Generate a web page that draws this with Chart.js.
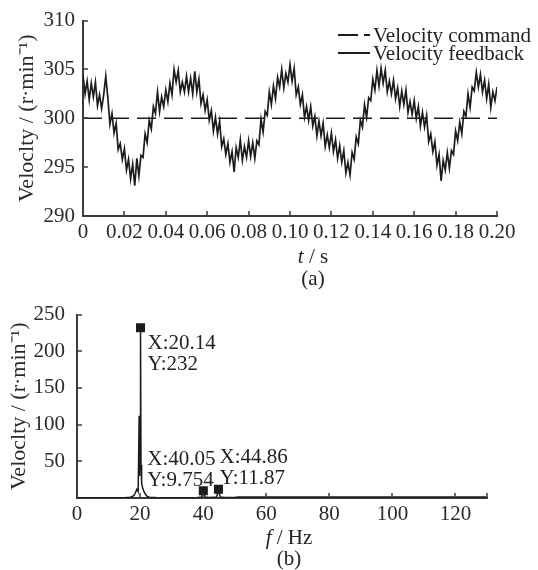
<!DOCTYPE html>
<html>
<head>
<meta charset="utf-8">
<script src="https://cdn.jsdelivr.net/npm/chart.js@4.4.0/dist/chart.umd.min.js"></script>
<style>
  body { margin: 0; background: #fff; }
  #wrap { position: relative; width: 538px; height: 570px; }
  canvas { position: absolute; left: 0; }
</style>
</head>
<body>
<div id="wrap">
  <canvas id="timeChart" width="538" height="290" style="top:0"></canvas>
  <canvas id="fftChart" width="538" height="280" style="top:290px"></canvas>
</div>
<script>
// (a) speed in the time domain, one sample per ms
const sampleStep = 0.001;
const timeRange = [0, 0.2];
const velocityCommand = 300;
const velocityFeedback = [
  304.4, 302.5, 303.8, 301.9, 303.6, 302.2, 303.7, 301.3, 302.4, 301.0,
  302.4, 304.3, 302.1, 299.4, 300.5, 298.5, 299.5, 296.8, 297.4, 295.8,
  296.9, 294.7, 295.8, 293.8, 295.3, 293.1, 295.9, 294.1, 296.2, 296.0,
  298.4, 297.5, 299.8, 298.9, 301.2, 300.5, 302.7, 300.7, 302.2, 301.2,
  302.9, 301.7, 303.6, 302.4, 305.0, 303.7, 304.9, 302.7, 303.7, 302.7,
  304.3, 302.7, 304.1, 302.5, 304.8, 302.7, 304.0, 301.5, 302.4, 300.8,
  301.9, 299.8, 300.8, 298.7, 300.1, 298.4, 299.7, 297.1, 297.9, 296.3,
  297.4, 295.5, 296.6, 294.5, 297.0, 296.0, 297.8, 295.7, 297.1, 296.0,
  297.7, 296.1, 297.5, 295.9, 297.7, 297.3, 299.9, 298.6, 300.7, 300.3,
  302.7, 301.4, 303.3, 302.0, 304.2, 303.2, 305.0, 303.1, 304.6, 303.7,
  305.5, 303.8, 305.1, 302.4, 303.2, 301.4, 302.4, 300.1, 301.2, 299.8,
  301.2, 299.2, 300.2, 298.2, 299.7, 298.2, 299.5, 297.1, 298.3, 297.0,
  298.5, 296.6, 297.8, 295.9, 297.2, 295.5, 296.7, 294.4, 295.5, 294.2,
  296.5, 295.8, 298.1, 297.4, 299.8, 299.1, 301.4, 300.1, 302.1, 301.8,
  304.0, 302.9, 304.9, 303.3, 305.1, 303.6, 304.9, 302.7, 303.8, 302.5,
  303.9, 302.0, 303.1, 301.2, 302.8, 301.4, 302.9, 300.6, 301.7, 300.4,
  301.8, 300.0, 301.2, 299.2, 300.6, 299.1, 300.3, 297.6, 298.4, 296.6,
  297.6, 295.2, 296.3, 293.6, 295.7, 294.7, 296.5, 294.9, 296.7, 296.3,
  298.7, 297.7, 299.6, 298.4, 300.7, 300.2, 302.5, 301.1, 303.2, 302.8,
  304.7, 303.2, 304.5, 302.7, 303.9, 302.0, 303.5, 301.1, 302.7, 301.8,
  303.2
];

// (b) spectrum of the feedback
const freqHz = [0, 5, 10, 15, 17, 18, 18.5, 19, 19.4, 19.7, 19.85, 20, 20.14, 20.3, 20.5, 20.8, 21.2, 21.7, 22.3, 23,
  25, 30, 35, 38, 39.5, 40.05, 40.6, 42, 44.3, 44.86, 45.4, 47, 50, 51, 60, 70, 80, 90, 100, 110, 120, 130];
const amplitude = [0.3, 0.3, 0.4, 0.5, 1, 3, 7, 12, 9, 112, 30, 90, 232, 45, 20, 14, 9, 5, 2, 1,
  0.6, 0.4, 0.4, 0.5, 1.5, 9.754, 1.5, 0.6, 1.5, 11.87, 1.5, 0.6, 0.6, 1.5, 1.5, 1.5, 1.5, 1.5, 1.5, 1.5, 1.5, 1.5];
const peakFreq = [20.14, 40.05, 44.86];
const peakAmp = [232, 9.754, 11.87];
const peakLabelOffsets = [[7, 16], [-56, -31], [1, -32]];

const serif = "'Liberation Serif', 'Times New Roman', serif";
const ink = '#1c1c1c';
Chart.defaults.font.family = serif;
Chart.defaults.font.size = 21;
Chart.defaults.color = '#2a2a2a';

// small tick marks pointing into the plot
const innerTicks = {
  id: 'innerTicks',
  afterDraw(chart) {
    const { ctx, scales: { x, y } } = chart;
    ctx.save();
    ctx.strokeStyle = '#3a3a3a';
    ctx.lineWidth = 1.5;
    ctx.beginPath();
    const xs = x.ticks.map(t => t.value).filter(v => v > x.min);
    if (xs[xs.length - 1] < x.max) xs.push(x.max);
    xs.forEach(v => {
      const px = Math.round(x.getPixelForValue(v));
      ctx.moveTo(px, x.top);
      ctx.lineTo(px, x.top - 5);
    });
    y.ticks.forEach(t => {
      if (t.value <= y.min) return;
      const py = Math.round(y.getPixelForValue(t.value));
      ctx.moveTo(y.right, py);
      ctx.lineTo(y.right + 5, py);
    });
    ctx.stroke();
    ctx.restore();
  }
};

// x-axis title with italic symbol, plus the (a)/(b) tag
const axisCaption = {
  id: 'axisCaption',
  afterDraw(chart, args, opts) {
    const ctx = chart.ctx;
    ctx.save();
    ctx.fillStyle = '#222';
    ctx.textBaseline = 'middle';
    const italic = 'italic 21px ' + serif;
    const plain = '21px ' + serif;
    ctx.font = italic;
    const w1 = ctx.measureText(opts.symbol).width;
    ctx.font = plain;
    const w2 = ctx.measureText(opts.unit).width;
    const x0 = opts.x - (w1 + w2) / 2;
    ctx.textAlign = 'left';
    ctx.font = italic;
    ctx.fillText(opts.symbol, x0, opts.y);
    ctx.font = plain;
    ctx.fillText(opts.unit, x0 + w1, opts.y);
    ctx.textAlign = 'center';
    ctx.fillText(opts.tag, opts.x, opts.tagY);
    ctx.restore();
  }
};

// legend at the top right, partly outside the plot
const sideLegend = {
  id: 'sideLegend',
  afterDraw(chart, args, opts) {
    const ctx = chart.ctx;
    ctx.save();
    ctx.font = '21px ' + serif;
    ctx.textBaseline = 'middle';
    ctx.textAlign = 'left';
    chart.data.datasets.forEach((ds, i) => {
      const y = opts.top + i * opts.rowGap;
      ctx.strokeStyle = ink;
      ctx.lineWidth = 2;
      ctx.setLineDash(ds.borderDash ? [20, 6] : []);
      ctx.beginPath();
      ctx.moveTo(opts.left, y);
      ctx.lineTo(opts.left + opts.sampleWidth, y);
      ctx.stroke();
      ctx.setLineDash([]);
      ctx.fillStyle = '#222';
      ctx.fillText(ds.label, opts.left + opts.sampleWidth + 3, y + 1);
    });
    ctx.restore();
  }
};

// data tip labels next to the peak markers
const peakLabels = {
  id: 'peakLabels',
  afterDraw(chart) {
    const { ctx, scales: { x, y } } = chart;
    ctx.save();
    ctx.font = '21px ' + serif;
    ctx.fillStyle = '#222';
    ctx.textBaseline = 'middle';
    ctx.textAlign = 'left';
    peakFreq.forEach((f, i) => {
      const px = x.getPixelForValue(f);
      const py = y.getPixelForValue(peakAmp[i]);
      const [dx, dy] = peakLabelOffsets[i];
      ctx.fillText('X:' + f, px + dx, py + dy);
      ctx.fillText('Y:' + peakAmp[i], px + dx, py + dy + 21);
    });
    ctx.restore();
  }
};

const axisBorder = { display: true, color: '#3a3a3a', width: 2 };
const yTitle = 'Veloclty / (r·min⁻¹)';
const yTitleFont = { size: 22 };

new Chart(document.getElementById('timeChart'), {
  type: 'line',
  data: {
    datasets: [{
      label: 'Velocity command',
      data: timeRange.map(t => ({ x: t, y: velocityCommand })),
      borderColor: ink,
      borderWidth: 1.5,
      borderDash: [19, 8],
      pointRadius: 0
    }, {
      label: 'Velocity feedback',
      data: velocityFeedback.map((v, i) => ({ x: i * sampleStep, y: v })),
      borderColor: ink,
      borderWidth: 1.7,
      pointRadius: 0,
      tension: 0
    }]
  },
  options: {
    responsive: false,
    animation: false,
    layout: { padding: { top: 20, right: 41, left: 0, bottom: 0 } },
    plugins: {
      legend: { display: false },
      tooltip: { enabled: false },
      sideLegend: { left: 338, top: 35, rowGap: 18, sampleWidth: 32 },
      axisCaption: { symbol: 't', unit: ' / s', tag: '(a)', x: 313, y: 257, tagY: 279 }
    },
    scales: {
      x: {
        type: 'linear',
        min: 0, max: 0.2,
        grid: { display: false, drawTicks: false },
        border: axisBorder,
        ticks: {
          stepSize: 0.02, autoSkip: false, maxRotation: 0, minRotation: 0, padding: 4,
          callback: v => v === 0 ? '0' : v.toFixed(2)
        },
        afterFit: s => { s.height = 74; }
      },
      y: {
        min: 290, max: 310,
        grid: { display: false, drawTicks: false },
        border: axisBorder,
        ticks: { stepSize: 5, padding: 8 },
        title: { display: true, text: yTitle, font: yTitleFont, padding: { top: 14, bottom: 0 } },
        afterFit: s => { s.width = 83; }
      }
    }
  },
  plugins: [innerTicks, sideLegend, axisCaption]
});

new Chart(document.getElementById('fftChart'), {
  type: 'line',
  data: {
    datasets: [{
      type: 'scatter',
      label: 'Peaks',
      data: peakFreq.map((f, i) => ({ x: f, y: peakAmp[i] })),
      pointStyle: 'rect',
      pointRadius: 6.4,
      backgroundColor: ink,
      borderColor: ink,
      borderWidth: 0
    }, {
      label: 'Spectrum',
      data: freqHz.map((f, i) => ({ x: f, y: amplitude[i] })),
      borderColor: ink,
      borderWidth: 1.5,
      pointRadius: 0,
      tension: 0
    }]
  },
  options: {
    responsive: false,
    animation: false,
    layout: { padding: { top: 18, right: 51, left: 0, bottom: 0 } },
    plugins: {
      legend: { display: false },
      tooltip: { enabled: false },
      axisCaption: { symbol: 'f', unit: ' / Hz', tag: '(b)', x: 289, y: 248, tagY: 269 }
    },
    scales: {
      x: {
        type: 'linear',
        min: 0, max: 130,
        grid: { display: false, drawTicks: false },
        border: axisBorder,
        ticks: { stepSize: 20, includeBounds: false, autoSkip: false, maxRotation: 0, padding: 4 },
        afterFit: s => { s.height = 72; }
      },
      y: {
        min: 0, max: 250,
        grid: { display: false, drawTicks: false },
        border: axisBorder,
        ticks: { stepSize: 50, padding: 12, callback: v => v === 0 ? '' : v },
        title: { display: true, text: yTitle, font: yTitleFont, padding: { top: 6, bottom: 0 } },
        afterFit: s => { s.width = 77; }
      }
    }
  },
  plugins: [innerTicks, peakLabels, axisCaption]
});
</script>
</body>
</html>
